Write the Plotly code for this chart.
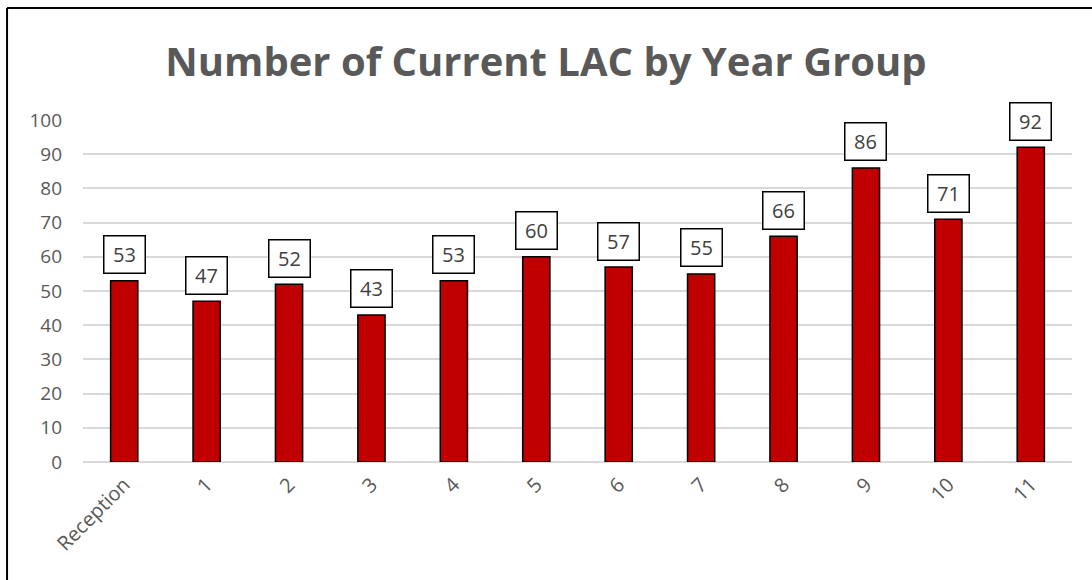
import plotly.graph_objects as go

categories = ["Reception", "1", "2", "3", "4", "5", "6", "7", "8", "9", "10", "11"]
values = [53, 47, 52, 43, 53, 60, 57, 55, 66, 86, 71, 92]
y_ticks = [0, 10, 20, 30, 40, 50, 60, 70, 80, 90, 100]
title_text = "Number of Current LAC by Year Group"

FONT = "Open Sans"
GRAY = "#595959"

fig = go.Figure()
fig.add_trace(go.Bar(
    x=categories, y=values,
    width=0.33,
    marker=dict(color="#C00000", line=dict(color="black", width=1.5)),
    hoverinfo="x+y",
))

for c, v in zip(categories, values):
    fig.add_annotation(
        x=c, y=v, xref="x", yref="y",
        text=str(v), showarrow=False,
        yanchor="middle", yshift=26,
        font=dict(family=FONT, size=20, color="#404040"),
        bgcolor="white", bordercolor="black", borderwidth=1.5,
        borderpad=6, width=28, height=24,
    )

# chart frame (top and left edges visible)
fig.add_shape(type="line", xref="paper", yref="paper",
              x0=-0.0768, x1=1.03, y0=1.3275, y1=1.3275,
              line=dict(color="black", width=2))
fig.add_shape(type="line", xref="paper", yref="paper",
              x0=-0.0768, x1=-0.0768, y0=1.3275, y1=-0.36,
              line=dict(color="black", width=2))

fig.update_layout(
    width=1092, height=580,
    margin=dict(l=83, r=20, t=120, b=118),
    paper_bgcolor="white", plot_bgcolor="white",
    showlegend=False,
    title=dict(text="<b>" + title_text + "</b>", x=0.5, xanchor="center",
               y=0.893, yanchor="middle",
               font=dict(family=FONT, size=40, color=GRAY)),
    font=dict(family=FONT, color=GRAY),
    bargap=0.67,
)
fig.update_xaxes(
    tickangle=-45, tickfont=dict(family=FONT, size=20, color=GRAY),
    showline=False, showgrid=False, ticks="", ticklabelstandoff=6,
)
fig.update_yaxes(
    range=[0, 100], tickvals=y_ticks,
    tickfont=dict(family=FONT, size=19, color=GRAY),
    showgrid=True, gridcolor="#d9d9d9", gridwidth=1.5,
    zeroline=True, zerolinecolor="#d9d9d9", zerolinewidth=1.5,
    ticks="", ticklabelstandoff=20,
)

fig.write_html("out.html", config={"displayModeBar": False},
               post_script="document.body.style.margin='0';")
